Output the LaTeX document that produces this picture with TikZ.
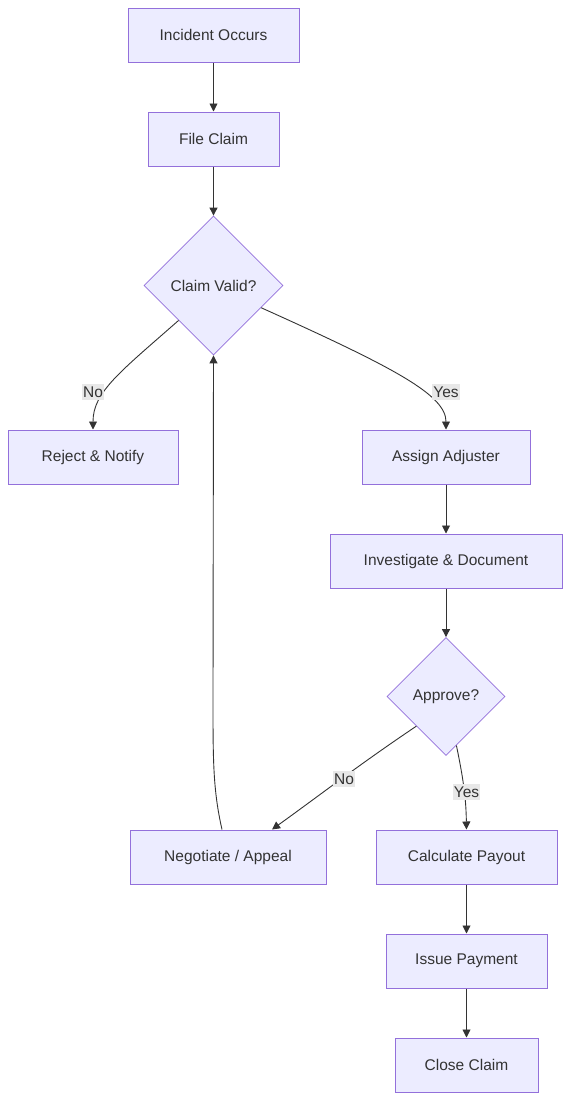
\documentclass[tikz,border=0pt]{standalone}
\usepackage{fontspec}
\setmainfont{Liberation Sans}
\usetikzlibrary{shapes.geometric,arrows.meta}
\definecolor{nodefill}{HTML}{ECECFF}
\definecolor{nodeline}{HTML}{9370DB}
\definecolor{txt}{HTML}{333333}
\definecolor{lblbg}{HTML}{E8E8E8}
\tikzset{
  box/.style={rectangle,draw=nodeline,fill=nodefill,line width=1pt,text=txt,
    minimum height=54pt,inner sep=0pt,font=\fontsize{15.5}{18}\selectfont},
  dec/.style={diamond,draw=nodeline,fill=nodefill,line width=0.8pt,text=txt,
    inner sep=0pt,aspect=1,font=\fontsize{15.5}{18}\selectfont},
  conn/.style={draw=txt,line width=0.9pt,-{Triangle[length=8pt,width=8pt]}},
  lbl/.style={fill=lblbg,text=txt,inner xsep=1pt,inner ysep=3pt,font=\fontsize{15.5}{18}\selectfont}
}
\begin{document}
\begin{tikzpicture}[x=1pt,y=-1pt]
\useasboundingbox (0,0) rectangle (570,1100);
\node[box,minimum width=171pt] (inc) at (213.5,35) {Incident Occurs};
\node[box,minimum width=131pt] (file) at (213.5,139) {File Claim};
\node[dec,minimum width=139pt,minimum height=139pt] (cv) at (213.5,285.5) {Claim Valid?};
\node[box,minimum width=170pt] (rej) at (93,457) {Reject \& Notify};
\node[box,minimum width=168pt] (asg) at (446,457) {Assign Adjuster};
\node[box,minimum width=232pt] (inv) at (446,561) {Investigate \& Document};
\node[dec,minimum width=118pt,minimum height=118pt] (ap) at (446,696.5) {Approve?};
\node[box,minimum width=196pt] (neg) at (228,857) {Negotiate / Appeal};
\node[box,minimum width=181pt] (calc) at (466.5,857) {Calculate Payout};
\node[box,minimum width=161pt] (pay) at (466.5,961) {Issue Payment};
\node[box,minimum width=143pt] (close) at (466.5,1065) {Close Claim};

\draw[conn] (inc) -- (file);
\draw[conn] (file) -- (cv);
\draw[conn] (cv.south west) .. controls (120,372) and (93,392) .. (rej.north);
\draw[conn] (cv.-25) .. controls (395,368) and (446,395) .. (asg.north);
\draw[conn] (asg) -- (inv);
\draw[conn] (inv) -- (ap);
\draw[conn] (ap.south west) .. controls (360,764) and (320,795) .. (neg.north -| 272,0);
\draw[conn] (ap.-78) .. controls (464,782) and (466,800) .. (calc.north);
\draw[conn] (neg.north -| 222,0) .. controls (213,790) and (213,760) .. (213,700) -- (cv.south);
\draw[conn] (calc) -- (pay);
\draw[conn] (pay) -- (close);

\node[lbl] (lno1) at (93,392) {No};
\node[lbl] (lyes1) at (446,392) {Yes};
\node[lbl] (lno2) at (344,779) {No};
\node[lbl] (lyes2) at (466.5,792) {Yes};
\end{tikzpicture}
\end{document}
